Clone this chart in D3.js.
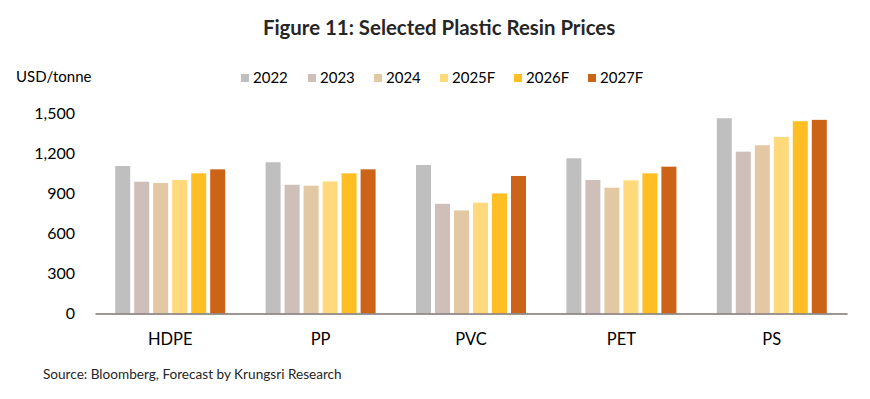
<!DOCTYPE html>
<html>
<head>
<meta charset="utf-8">
<script src="https://cdn.jsdelivr.net/npm/d3@7"></script>
<style>
  body { margin: 0; background: #fff; }
  text { font-family: Lato, "Noto Sans", sans-serif; fill: #000; }
</style>
</head>
<body>
<div id="chartContainer"></div>
<script>
const categories = ['HDPE', 'PP', 'PVC', 'PET', 'PS'];
const seriesNames = ['2022', '2023', '2024', '2025F', '2026F', '2027F'];
const values2022 = [1109, 1137, 1117, 1167, 1468];
const values2023 = [991, 968, 825, 1004, 1217];
const values2024 = [981, 961, 775, 946, 1265];
const values2025F = [1004, 993, 833, 1001, 1328];
const values2026F = [1054, 1054, 903, 1054, 1446];
const values2027F = [1084, 1084, 1034, 1104, 1456];
const yTicks = [0, 300, 600, 900, 1200, 1500];
const colors = ['#BFBFBF', '#CFBFBB', '#E2C9A3', '#FFD97C', '#FFBF24', '#CC6418'];

const seriesValues = [values2022, values2023, values2024, values2025F, values2026F, values2027F];
const rows = categories.map((c, i) => ({
    label: c,
    values: seriesNames.map((s, j) => ({ series: s, value: seriesValues[j][i] }))
}));

const svgWidth = 870;
const svgHeight = 399;
const margin = { top: 114, right: 23, bottom: 85, left: 95 };
const chartWidth = svgWidth - margin.left - margin.right;
const chartHeight = 313.5 - margin.top;

const svg = d3.select('#chartContainer')
    .append('svg')
    .attr('width', svgWidth)
    .attr('height', svgHeight);

const x0 = d3.scaleBand()
    .range([0, chartWidth])
    .domain(categories);

const x1 = d3.scaleBand()
    .domain(seriesNames)
    .range([20.2, x0.bandwidth() - 20.2])
    .paddingInner(0.21);

const yScale = d3.scaleLinear()
    .range([chartHeight, 0])
    .domain([0, 1500]);

const color = d3.scaleOrdinal().domain(seriesNames).range(colors);

const chart = svg.append('g')
    .attr('transform', `translate(${margin.left}, ${margin.top})`);

// title
svg.append('text')
    .attr('x', 439)
    .attr('y', 35)
    .attr('text-anchor', 'middle')
    .style('font-size', '20.4px')
    .style('font-weight', 'bold')
    .style('fill', '#262626')
    .text('Figure 11: Selected Plastic Resin Prices');

svg.append('text')
    .attr('x', 16)
    .attr('y', 82)
    .style('font-size', '15px')
    .text('USD/tonne');

// legend
const legendX = [241, 308, 374, 440, 514, 588];
const legend = svg.append('g').selectAll('g')
    .data(seriesNames)
    .enter().append('g')
    .attr('transform', (d, i) => `translate(${legendX[i]}, 74)`);
legend.append('rect')
    .attr('width', 8)
    .attr('height', 8)
    .attr('fill', d => color(d));
legend.append('text')
    .attr('x', 12)
    .attr('y', 9)
    .style('font-size', '15px')
    .text(d => d);

// bars
const groups = chart.selectAll('.group')
    .data(rows)
    .enter().append('g')
    .attr('class', 'group')
    .attr('transform', d => `translate(${x0(d.label)}, 0)`);

groups.selectAll('rect')
    .data(d => d.values)
    .enter().append('rect')
    .attr('x', d => x1(d.series))
    .attr('y', d => yScale(d.value))
    .attr('width', x1.bandwidth())
    .attr('height', d => chartHeight - yScale(d.value))
    .attr('fill', d => color(d.series));

// y axis
const yAxis = d3.axisLeft(yScale)
    .tickValues(yTicks)
    .tickSize(0)
    .tickPadding(20)
    .tickFormat(d3.format(',.0f'));
const yg = chart.append('g').call(yAxis);
yg.select('.domain').remove();
yg.selectAll('text').style('font-size', '16px').attr('dy', '0.3em');

// x axis
const xAxis = d3.axisBottom(x0).tickSize(0).tickPadding(20);
const xg = chart.append('g')
    .attr('transform', `translate(0, ${chartHeight})`)
    .call(xAxis);
xg.select('.domain').attr('stroke', '#7f7370').attr('stroke-width', 1.5);
xg.selectAll('text').style('font-size', '16.5px');

svg.append('text')
    .attr('x', 43)
    .attr('y', 379)
    .style('font-size', '13.6px')
    .style('fill', '#262626')
    .text('Source: Bloomberg, Forecast by Krungsri Research');
</script>
</body>
</html>
